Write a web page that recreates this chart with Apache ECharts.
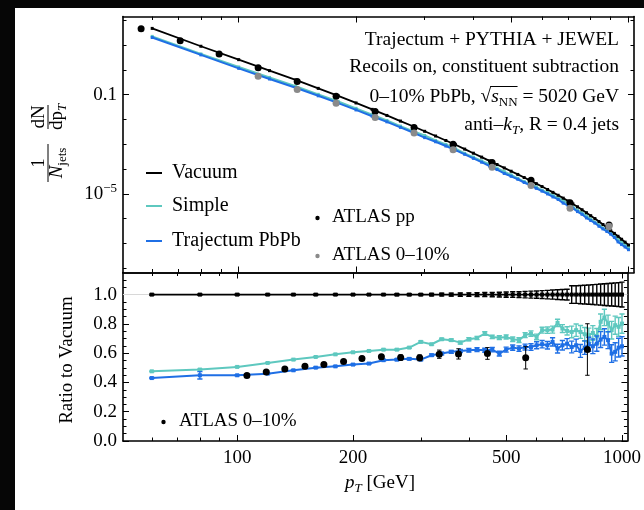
<!DOCTYPE html>
<html>
<head>
<meta charset="utf-8">
<script src="https://cdn.jsdelivr.net/npm/echarts@6/dist/echarts.min.js"></script>
<style>
  html, body { margin: 0; padding: 0; background: #060606; }
  #paper { position: absolute; left: 15px; top: 8px; width: 629px; height: 502px; background: #fff; }
  #chart { position: absolute; left: 0; top: 0; width: 644px; height: 510px; }
</style>
</head>
<body>
<div id="paper"></div>
<div id="chart"></div>
<script>
// ---------- data ----------
const ptBins = [60,80,100,120,140,160,180,200,220,240,260,280,300,320,340,360,380,400,420,440,460,480,500,520,540,560,580,600,620,640,660,680,700,720,740,760,780,800,820,840,860,880,900,920,940,960,980,1000];

// jet spectra, 1/N dN/dpT
const vacuumSpectrum = [46.8,8.93,2.57,0.927,0.391,0.179,0.0895,0.0462,0.0255,0.0145,0.00861,0.0053,0.00333,0.00215,0.00142,9.55e-4,6.38e-4,4.36e-4,3.03e-4,2.14e-4,1.53e-4,1.11e-4,8.18e-5,6.08e-5,4.55e-5,3.43e-5,2.59e-5,1.97e-5,1.50e-5,1.15e-5,8.79e-6,6.73e-6,5.16e-6,3.94e-6,3.01e-6,2.29e-6,1.74e-6,1.32e-6,1.01e-6,7.64e-7,5.81e-7,4.41e-7,3.34e-7,2.55e-7,1.95e-7,1.48e-7,1.13e-7,8.67e-8];
const simpleSpectrum = [22.3,4.36,1.30,0.494,0.217,0.103,0.053,0.028,0.0157,0.00906,0.00537,0.00338,0.00226,0.00142,9.89e-4,6.58e-4,4.29e-4,3.03e-4,2.13e-4,1.57e-4,1.09e-4,7.87e-5,5.82e-5,4.23e-5,3.13e-5,2.48e-5,1.91e-5,1.40e-5,1.14e-5,8.69e-6,6.68e-6,5.43e-6,3.96e-6,2.96e-6,2.24e-6,1.73e-6,1.30e-6,9.66e-7,7.28e-7,5.64e-7,4.16e-7,3.59e-7,2.82e-7,2.04e-7,1.47e-7,1.17e-7,8.83e-8,6.95e-8];
const trajectumSpectrum = [20.1,4.01,1.15,0.427,0.189,0.0897,0.0457,0.0242,0.0135,0.00802,0.00479,0.00297,0.00185,0.00126,8.49e-4,5.82e-4,3.93e-4,2.70e-4,1.89e-4,1.33e-4,9.57e-5,6.65e-5,5.11e-5,3.88e-5,2.87e-5,2.20e-5,1.67e-5,1.29e-5,9.93e-6,7.52e-6,5.96e-6,4.25e-6,3.38e-6,2.62e-6,1.93e-6,1.50e-6,1.07e-6,8.45e-7,6.65e-7,4.94e-7,3.86e-7,3.05e-7,2.38e-7,1.75e-7,1.16e-7,9.04e-8,7.23e-8,5.61e-8];

// ratios to vacuum and their uncertainties
const vacuumRatio = [1,1,1,1,1,1,1,1,1,1,1,1,1,1,1,1,1,1,1,1,1,1,1,1,1,1,1,1,1,1,1,1,1,1,1,1,1,1,1,1,1,1,1,1,1,1,1,1];
const vacuumErr = [0.004,0.004,0.004,0.004,0.004,0.004,0.004,0.005,0.005,0.005,0.006,0.006,0.007,0.008,0.009,0.010,0.011,0.012,0.013,0.014,0.015,0.016,0.018,0.019,0.020,0.022,0.024,0.025,0.027,0.029,0.031,0.033,0.035,0.037,0.060,0.060,0.062,0.064,0.066,0.068,0.070,0.072,0.074,0.076,0.078,0.080,0.082,0.085];
const simpleRatio = [0.476,0.488,0.506,0.533,0.556,0.574,0.592,0.606,0.615,0.624,0.624,0.638,0.677,0.661,0.695,0.689,0.672,0.695,0.704,0.734,0.711,0.706,0.711,0.695,0.689,0.723,0.734,0.711,0.757,0.757,0.761,0.807,0.768,0.752,0.745,0.757,0.745,0.729,0.723,0.738,0.716,0.814,0.844,0.802,0.757,0.791,0.780,0.802];
const simpleErr = [0.003,0.004,0.003,0.003,0.003,0.003,0.003,0.004,0.004,0.004,0.005,0.005,0.006,0.006,0.007,0.008,0.009,0.010,0.011,0.012,0.012,0.013,0.014,0.015,0.016,0.017,0.018,0.019,0.020,0.022,0.024,0.025,0.027,0.028,0.040,0.042,0.044,0.046,0.048,0.050,0.052,0.054,0.056,0.058,0.060,0.062,0.064,0.066];
const trajectumRatio = [0.430,0.449,0.449,0.460,0.483,0.501,0.510,0.522,0.529,0.552,0.556,0.561,0.556,0.586,0.597,0.609,0.615,0.620,0.624,0.620,0.624,0.597,0.624,0.638,0.631,0.642,0.642,0.654,0.661,0.654,0.677,0.631,0.654,0.665,0.642,0.654,0.615,0.638,0.661,0.647,0.665,0.693,0.711,0.689,0.597,0.609,0.638,0.647];
const trajectumErr = [0.004,0.025,0.004,0.004,0.004,0.004,0.004,0.005,0.005,0.005,0.006,0.006,0.007,0.008,0.009,0.010,0.011,0.012,0.013,0.014,0.015,0.016,0.017,0.018,0.019,0.020,0.022,0.024,0.025,0.026,0.028,0.030,0.032,0.034,0.040,0.042,0.044,0.046,0.048,0.050,0.052,0.054,0.056,0.058,0.060,0.062,0.064,0.066];

// ATLAS measurements
const atlasSpecPt = [56.2,70.8,89.1,112.2,141.3,177.8,223.9,281.8,354.8,446.7,562.3,707.9,891.3];
const atlasPP = [45.6,14.9,4.33,1.21,0.341,0.0869,0.0209,0.00473,0.00100,1.82e-4,3.51e-5,4.41e-6,5.5e-7];
const atlasAAPt = [112.2,141.3,177.8,223.9,281.8,354.8,446.7,562.3,707.9,891.3];
const atlasAA = [0.557,0.161,0.0454,0.0119,0.00281,5.94e-4,1.19e-4,2.16e-5,2.65e-6,4.80e-7];
const atlasAALow = [0.557,0.161,0.0454,0.0119,0.00281,5.94e-4,1.19e-4,2.16e-5,2.65e-6,3.6e-7];
const atlasAAHigh = [0.557,0.161,0.0454,0.0119,0.00281,5.94e-4,1.19e-4,2.16e-5,2.65e-6,6.4e-7];
const atlasRaaPt = [106,119,133,150,168,189,211,237,266,298,335,376,447,562,813];
const atlasRaa = [0.448,0.472,0.491,0.511,0.523,0.543,0.564,0.575,0.570,0.568,0.593,0.595,0.598,0.568,0.625];
const atlasRaaErr = [0.010,0.010,0.010,0.010,0.012,0.012,0.014,0.016,0.018,0.020,0.028,0.035,0.040,0.076,0.176];

// axis tick positions
const xMajor = [100,200,500,1000];
const xMinor = [60,70,80,90,300,400,600,700,800,900];
const ySpecMajor = [0.1,1e-5];
const ySpecMinor = [1e-8,1e-7,1e-6,1e-4,1e-3,1e-2,1,10,100];
const yRatioMajor = [0,0.2,0.4,0.6,0.8,1.0];
const yRatioMinor = [0.05,0.1,0.15,0.25,0.3,0.35,0.45,0.5,0.55,0.65,0.7,0.75,0.85,0.9,0.95,1.05,1.1];

// ---------- styling ----------
const FONT = 'Liberation Serif';
const FS = 19;
const TEAL = '#5ec8bf';
const BLUE = '#1f6fe5';
const GREY = '#8a8a8a';
const PT_MIN = 50.5, PT_MAX = 1033;
const SPEC_MIN = Math.pow(10, -8.17), SPEC_MAX = Math.pow(10, 2.15);

const grids = [
  { left: 123, top: 16.5, width: 511, height: 256 },
  { left: 123, top: 272.5, width: 511, height: 168.5 }
];

function tickAxis(base, ticks, len, showLine) {
  return Object.assign({
    axisLine: { show: showLine, onZero: false, lineStyle: { color: '#000', width: 1.6 } },
    axisTick: { show: true, inside: true, length: len, customValues: ticks, lineStyle: { color: '#000', width: 1 } },
    axisLabel: { show: false },
    splitLine: { show: false },
    minorTick: { show: false },
    minorSplitLine: { show: false }
  }, base);
}

const labelStyle = { color: '#000', fontFamily: FONT, fontSize: FS };

const xAxes = [];
[0, 1].forEach(function (gi) {
  const base = { type: 'log', logBase: 10, gridIndex: gi, min: PT_MIN, max: PT_MAX };
  const bottomMajor = tickAxis(Object.assign({ position: 'bottom' }, base), xMajor, 6, true);
  if (gi === 1) {
    bottomMajor.axisLabel = Object.assign({
      show: true, customValues: xMajor, margin: 8,
      formatter: function (v) { return String(Math.round(v)); }
    }, labelStyle);
  }
  xAxes.push(bottomMajor);
  xAxes.push(tickAxis(Object.assign({ position: 'bottom' }, base), xMinor, 3.5, false));
  xAxes.push(tickAxis(Object.assign({ position: 'top' }, base), xMajor, 6, true));
  xAxes.push(tickAxis(Object.assign({ position: 'top' }, base), xMinor, 3.5, false));
});

const yAxes = [];
// spectrum panel
(function () {
  const base = { type: 'log', logBase: 10, gridIndex: 0, min: SPEC_MIN, max: SPEC_MAX };
  const leftMajor = tickAxis(Object.assign({ position: 'left' }, base), ySpecMajor, 6, true);
  leftMajor.axisLabel = Object.assign({
    show: true, customValues: ySpecMajor, margin: 6,
    formatter: function (v) {
      return Math.abs(Math.log10(v) + 1) < 0.01 ? '{b|0.1}' : '{b|10}{sup|−5}';
    },
    rich: {
      b: { fontFamily: FONT, fontSize: FS, lineHeight: 24, color: '#000' },
      sup: { fontFamily: FONT, fontSize: 13, lineHeight: 14, verticalAlign: 'top', color: '#000' }
    }
  }, labelStyle);
  yAxes.push(leftMajor);
  yAxes.push(tickAxis(Object.assign({ position: 'left' }, base), ySpecMinor, 3.5, false));
  yAxes.push(tickAxis(Object.assign({ position: 'right' }, base), ySpecMajor, 6, true));
  yAxes.push(tickAxis(Object.assign({ position: 'right' }, base), ySpecMinor, 3.5, false));
})();
// ratio panel
(function () {
  const base = { type: 'value', gridIndex: 1, min: 0, max: 1.151 };
  const leftMajor = tickAxis(Object.assign({ position: 'left' }, base), yRatioMajor, 6, true);
  leftMajor.axisLabel = Object.assign({
    show: true, customValues: yRatioMajor, margin: 6,
    formatter: function (v) { return v.toFixed(1); }
  }, labelStyle);
  yAxes.push(leftMajor);
  yAxes.push(tickAxis(Object.assign({ position: 'left' }, base), yRatioMinor, 3.5, false));
  yAxes.push(tickAxis(Object.assign({ position: 'right' }, base), yRatioMajor, 6, true));
  yAxes.push(tickAxis(Object.assign({ position: 'right' }, base), yRatioMinor, 3.5, false));
})();

function pairs(xs, ys) { return xs.map(function (x, i) { return [x, ys[i]]; }); }
function bands(xs, ys, es) { return xs.map(function (x, i) { return [x, ys[i] - es[i], ys[i] + es[i]]; }); }
function bandsLH(xs, lo, hi) { return xs.map(function (x, i) { return [x, lo[i], hi[i]]; }); }

function lineSeries(name, data, color, width, symSize, xi, yi, z) {
  return {
    type: 'line', name: name, data: data, xAxisIndex: xi, yAxisIndex: yi, z: z,
    symbol: 'rect', symbolSize: symSize, showSymbol: true,
    itemStyle: { color: color }, lineStyle: { color: color, width: width },
    silent: true, animation: false, clip: true
  };
}

function errorSeries(name, data, color, lw, cap, xi, yi, z) {
  return {
    type: 'custom', name: name, data: data, xAxisIndex: xi, yAxisIndex: yi, z: z,
    silent: true, animation: false, clip: true,
    encode: { x: 0, y: [1, 2] },
    renderItem: function (params, api) {
      const x = api.value(0);
      const a = api.coord([x, api.value(1)]);
      const b = api.coord([x, api.value(2)]);
      const st = { stroke: color, lineWidth: lw };
      return {
        type: 'group', children: [
          { type: 'line', shape: { x1: a[0], y1: a[1], x2: b[0], y2: b[1] }, style: st },
          { type: 'line', shape: { x1: a[0] - cap, y1: a[1], x2: a[0] + cap, y2: a[1] }, style: st },
          { type: 'line', shape: { x1: b[0] - cap, y1: b[1], x2: b[0] + cap, y2: b[1] }, style: st }
        ]
      };
    }
  };
}

function scatterSeries(name, data, color, size, xi, yi, z) {
  return {
    type: 'scatter', name: name, data: data, xAxisIndex: xi, yAxisIndex: yi, z: z,
    symbol: 'circle', symbolSize: size, itemStyle: { color: color, opacity: 1 },
    silent: true, animation: false
  };
}

const series = [
  // spectra
  lineSeries('Simple', pairs(ptBins, simpleSpectrum), TEAL, 2, 3, 0, 0, 2),
  lineSeries('Trajectum PbPb', pairs(ptBins, trajectumSpectrum), BLUE, 2, 3, 0, 0, 3),
  lineSeries('Vacuum', pairs(ptBins, vacuumSpectrum), '#000', 1.8, 3, 0, 0, 4),
  scatterSeries('ATLAS pp', pairs(atlasSpecPt, atlasPP), '#000', 7, 0, 0, 5),
  errorSeries('ATLAS 0–10% err', bandsLH(atlasAAPt, atlasAALow, atlasAAHigh), '#6a6a6a', 1.2, 2.5, 0, 0, 6),
  scatterSeries('ATLAS 0–10%', pairs(atlasAAPt, atlasAA), GREY, 7, 0, 0, 7),
  // ratios
  Object.assign(lineSeries('Vacuum ratio', pairs(ptBins, vacuumRatio), '#000', 1.8, 4, 4, 4, 4), {
    markLine: {
      silent: true, symbol: ['none', 'none'], label: { show: false },
      lineStyle: { color: '#d8d8d8', width: 1, type: 'solid' },
      data: [{ yAxis: 1 }], z: 1
    }
  }),
  errorSeries('Vacuum ratio err', bands(ptBins, vacuumRatio, vacuumErr), '#000', 1.4, 2.6, 4, 4, 5),
  lineSeries('Simple ratio', pairs(ptBins, simpleRatio), TEAL, 2, 4, 4, 4, 4),
  errorSeries('Simple ratio err', bands(ptBins, simpleRatio, simpleErr), TEAL, 1.4, 2.6, 4, 4, 5),
  lineSeries('Trajectum ratio', pairs(ptBins, trajectumRatio), BLUE, 2, 4, 4, 4, 6),
  errorSeries('Trajectum ratio err', bands(ptBins, trajectumRatio, trajectumErr), BLUE, 1.4, 2.6, 4, 4, 7),
  errorSeries('ATLAS RAA err', bands(atlasRaaPt, atlasRaa, atlasRaaErr), '#000', 1, 2.2, 4, 4, 8),
  scatterSeries('ATLAS RAA', pairs(atlasRaaPt, atlasRaa), '#000', 7, 4, 4, 9)
];

// ---------- text & legend ----------
function measure(text, size, italic) {
  const c = document.createElement('canvas').getContext('2d');
  c.font = (italic ? 'italic ' : '') + size + 'px "' + FONT + '"';
  return c.measureText(text).width;
}
const ANNO = 19.5;
const LEG = 20;
function richFor(size) {
  return {
    r: { fontFamily: FONT, fontSize: size, lineHeight: 24 },
    i: { fontFamily: FONT, fontSize: size, fontStyle: 'italic', lineHeight: 24 },
    sub: { fontFamily: FONT, fontSize: 13, lineHeight: 14, verticalAlign: 'bottom' },
    isub: { fontFamily: FONT, fontSize: 13, fontStyle: 'italic', lineHeight: 14, verticalAlign: 'bottom' }
  };
}
function txt(x, y, text, align, size) {
  const s = size || FS;
  return { type: 'text', x: x, y: y, silent: true, z: 50,
    style: { text: text, align: align || 'left', verticalAlign: 'middle', rich: richFor(s),
      fontFamily: FONT, fontSize: s, fill: '#000' } };
}

const annoRight = 619;
const tailW = measure(' = 5020 GeV', ANNO, false);
const sW = measure('s', ANNO, true);
const nnW = measure('NN', 13, false);
const overlineX2 = annoRight - tailW;
const overlineX1 = overlineX2 - sW - nnW - 1;

const graphics = [
  // annotations
  txt(annoRight, 40, 'Trajectum + PYTHIA + JEWEL', 'right', ANNO),
  txt(annoRight, 67, 'Recoils on, constituent subtraction', 'right', ANNO),
  txt(annoRight, 97, '{r|0–10% PbPb, √}{i|s}{sub|NN}{r| = 5020 GeV}', 'right', ANNO),
  { type: 'line', silent: true, z: 50, shape: { x1: overlineX1, y1: 86.5, x2: overlineX2, y2: 86.5 }, style: { stroke: '#000', lineWidth: 1 } },
  txt(annoRight, 125, '{r|anti–}{i|k}{isub|T}{r|, R = 0.4 jets}', 'right', ANNO),
  // model legend
  { type: 'line', silent: true, z: 50, shape: { x1: 146, y1: 173, x2: 162, y2: 173 }, style: { stroke: '#000', lineWidth: 2 } },
  txt(172, 173, 'Vacuum', 'left', LEG),
  { type: 'line', silent: true, z: 50, shape: { x1: 146, y1: 206, x2: 162, y2: 206 }, style: { stroke: TEAL, lineWidth: 2 } },
  txt(172, 206, 'Simple', 'left', LEG),
  { type: 'line', silent: true, z: 50, shape: { x1: 146, y1: 241, x2: 162, y2: 241 }, style: { stroke: BLUE, lineWidth: 2 } },
  txt(172, 241, 'Trajectum PbPb', 'left', LEG),
  // data legend
  { type: 'circle', silent: true, z: 50, shape: { cx: 317.5, cy: 218, r: 2.2 }, style: { fill: '#000' } },
  txt(332, 217, 'ATLAS pp'),
  { type: 'circle', silent: true, z: 50, shape: { cx: 317.5, cy: 256, r: 2.2 }, style: { fill: GREY } },
  txt(332, 255, 'ATLAS 0–10%'),
  { type: 'circle', silent: true, z: 50, shape: { cx: 163.5, cy: 422, r: 2.2 }, style: { fill: '#000' } },
  txt(179, 421, 'ATLAS 0–10%'),
  // axis titles
  txt(380, 483, '{i|p}{isub|T}{r| [GeV]}', 'center'),
  Object.assign(txt(67, 360, 'Ratio to Vacuum', 'center'), { rotation: Math.PI / 2 }),
  {
    type: 'group', x: 48, y: 145, rotation: Math.PI / 2, silent: true, z: 50,
    children: [
      txt(-18, -9, '1', 'center'),
      { type: 'line', shape: { x1: -37, y1: 0, x2: 1, y2: 0 }, style: { stroke: '#000', lineWidth: 1 } },
      txt(-18, 9, '{i|N}{sub|jets}', 'center'),
      txt(28, -9, 'dN', 'center'),
      { type: 'line', shape: { x1: 16, y1: 0, x2: 40, y2: 0 }, style: { stroke: '#000', lineWidth: 1 } },
      txt(28, 9, '{r|dp}{isub|T}', 'center')
    ]
  }
];

const chart = echarts.init(document.getElementById('chart'), null, { renderer: 'canvas' });
chart.setOption({
  animation: false,
  backgroundColor: 'transparent',
  grid: grids,
  xAxis: xAxes,
  yAxis: yAxes,
  series: series,
  graphic: graphics
});
</script>
</body>
</html>
